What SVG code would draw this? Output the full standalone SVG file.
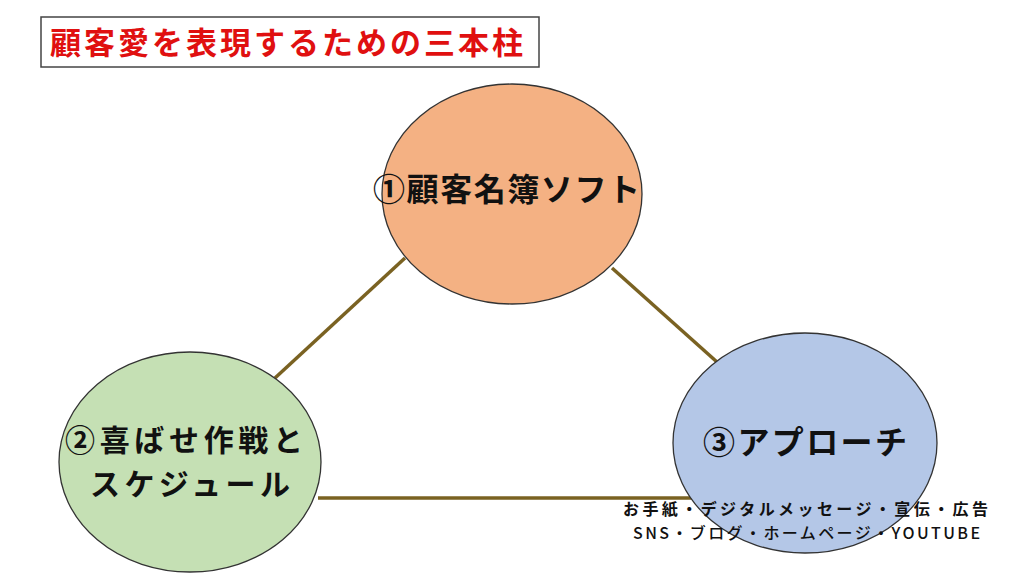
<svg xmlns="http://www.w3.org/2000/svg" width="1024" height="576" viewBox="0 0 1024 576">
<style>
.node{stroke:#333333;stroke-width:1.3}
.lbl{font-family:"Noto Sans CJK JP","Noto Sans",sans-serif;font-weight:700;fill:#111111}
.conn{stroke:#7a6222;stroke-width:3.5;fill:none}
</style>
<rect width="1024" height="576" fill="#ffffff"/>
<g id="title">
<rect x="41" y="17" width="498" height="50" fill="#ffffff" stroke="#444444" stroke-width="1.5"/>
<text x="50" y="54" font-family="Noto Sans CJK JP,sans-serif" font-weight="700" font-size="31" fill="#e01010" textLength="473" lengthAdjust="spacing">顧客愛を表現するための三本柱</text>
</g>
<g id="connectors">
<line class="conn" x1="405" y1="258" x2="275" y2="378"/>
<line class="conn" x1="612" y1="268" x2="717" y2="362"/>
<line class="conn" x1="318" y1="498" x2="695" y2="498"/>
</g>
<g id="node1">
<ellipse class="node" cx="512" cy="194" rx="130" ry="110" fill="#f4b183"/>
<text class="lbl" x="373" y="201" font-size="32" textLength="267" lengthAdjust="spacing">①顧客名簿ソフト</text>
</g>
<g id="node2">
<ellipse class="node" cx="190" cy="462" rx="131" ry="110" fill="#c5e0b4"/>
<text class="lbl" x="65" y="451" font-size="30" textLength="238" lengthAdjust="spacing">②喜ばせ作戦と</text>
<text class="lbl" x="90" y="495" font-size="30" textLength="200" lengthAdjust="spacing">スケジュール</text>
</g>
<g id="node3">
<ellipse class="node" cx="805" cy="443" rx="132" ry="110" fill="#b4c7e7"/>
<text class="lbl" x="703" y="454" font-size="32" textLength="204" lengthAdjust="spacing">③アプローチ</text>
</g>
<g id="note">
<text class="lbl" x="623" y="515" font-size="16" textLength="365" lengthAdjust="spacing">お手紙・デジタルメッセージ・宣伝・広告</text>
<text x="633" y="539" font-family="Noto Sans CJK JP,sans-serif" font-weight="500" font-size="16" fill="#111111" textLength="347" lengthAdjust="spacing">SNS・ブログ・ホームページ・YOUTUBE</text>
</g>
</svg>
